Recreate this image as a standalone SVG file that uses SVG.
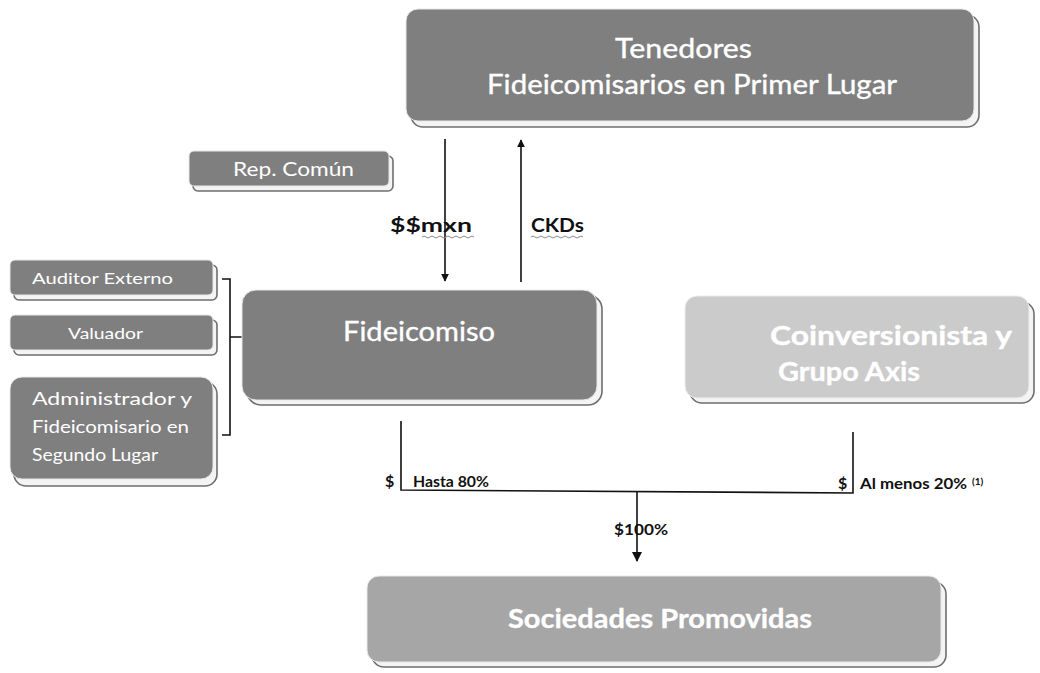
<svg xmlns="http://www.w3.org/2000/svg" width="1040" height="673" viewBox="0 0 1040 673">
<defs>
<style>
.sh{fill:#f4f4f4;stroke:#6e6e6e;stroke-width:1.6}
.dk{fill:#7f7f7f;stroke:#e8e8e8;stroke-width:1}
.md{fill:#a6a6a6;stroke:#e8e8e8;stroke-width:1}
.lt{fill:#cbcbcb;stroke:#ececec;stroke-width:1}
.wt{font-family:Lato,"Open Sans",sans-serif;fill:#ffffff;stroke:#ffffff;stroke-width:0.35}
.ws{font-family:Lato,"Open Sans",sans-serif;fill:#ffffff}
.lab{font-family:Lato,"Liberation Sans",sans-serif;fill:#111;font-weight:bold}
.ln{stroke:#111;stroke-width:1.6;fill:none}
.sq{stroke:#8a8a8a;stroke-width:1;fill:none}
</style>
<marker id="ah" viewBox="0 0 10 10" refX="9" refY="5" markerWidth="8" markerHeight="8" orient="auto" markerUnits="userSpaceOnUse">
<path d="M0,0 L10,5 L0,10 z" fill="#111"/>
</marker>
<marker id="ahb" viewBox="0 0 10 10" refX="9" refY="5" markerWidth="10" markerHeight="10" orient="auto" markerUnits="userSpaceOnUse">
<path d="M0,0 L10,5 L0,10 z" fill="#111"/>
</marker>
</defs>
<rect width="1040" height="673" fill="#ffffff"/>

<g id="connectors">
<line class="ln" x1="445" y1="139" x2="445" y2="281" marker-end="url(#ah)"/>
<line class="ln" x1="521" y1="282" x2="521" y2="140" marker-end="url(#ah)"/>
<path class="ln" d="M222,279 H230 V435 H222 M230,337 H242"/>
<path class="ln" d="M401,421 V490 L853,493 V432"/>
<line class="ln" x1="637" y1="491" x2="637" y2="561" marker-end="url(#ahb)"/>
<text class="lab" x="390" y="232" font-size="18" textLength="82" lengthAdjust="spacingAndGlyphs">$$mxn</text>
<path class="sq" d="M422,237 q2,-2 4,0 t4,0 t4,0 t4,0 t4,0 t4,0 t4,0 t4,0 t4,0 t4,0 t4,0 t4,0 t4,0"/>
<text class="lab" x="531" y="232" font-size="19" textLength="53" lengthAdjust="spacingAndGlyphs">CKDs</text>
<path class="sq" d="M531,237 q2,-2 4,0 t4,0 t4,0 t4,0 t4,0 t4,0 t4,0 t4,0 t4,0 t4,0 t4,0 t4,0 t4,0"/>
<text class="lab" x="385" y="487" font-size="16">$</text>
<text class="lab" x="413" y="487" font-size="15.5" textLength="76" lengthAdjust="spacingAndGlyphs">Hasta 80%</text>
<text class="lab" x="838" y="489" font-size="16">$</text>
<text class="lab" x="860" y="489" font-size="16" textLength="107" lengthAdjust="spacingAndGlyphs">Al menos 20%</text>
<text class="lab" x="972" y="485" font-size="10">(1)</text>
<text class="lab" x="614" y="535" font-size="16" textLength="54" lengthAdjust="spacingAndGlyphs">$100%</text>
</g>

<g id="tenedores">
<rect class="sh" x="411" y="15" width="568" height="112" rx="12"/>
<rect class="dk" x="406" y="9" width="568" height="112" rx="12"/>
<text class="wt" x="615" y="58" font-size="27" textLength="137" lengthAdjust="spacingAndGlyphs">Tenedores</text>
<text class="wt" x="487" y="94" font-size="27" textLength="410" lengthAdjust="spacingAndGlyphs">Fideicomisarios en Primer Lugar</text>
</g>

<g id="rep-comun">
<rect class="sh" x="193" y="156" width="200" height="35" rx="5"/>
<rect class="dk" x="189" y="151" width="200" height="35" rx="5"/>
<text class="ws" x="233" y="176" font-size="20" textLength="121" lengthAdjust="spacingAndGlyphs">Rep. Común</text>
</g>

<g id="auditor">
<rect class="sh" x="14" y="265" width="203" height="35" rx="5"/>
<rect class="dk" x="10" y="260" width="203" height="35" rx="5"/>
<text class="ws" x="32" y="284" font-size="16" textLength="141" lengthAdjust="spacingAndGlyphs">Auditor Externo</text>
</g>

<g id="valuador">
<rect class="sh" x="14" y="320" width="203" height="35" rx="5"/>
<rect class="dk" x="10" y="315" width="203" height="35" rx="5"/>
<text class="ws" x="68" y="339" font-size="16" textLength="75" lengthAdjust="spacingAndGlyphs">Valuador</text>
</g>

<g id="administrador">
<rect class="sh" x="14" y="382" width="203" height="104" rx="12"/>
<rect class="dk" x="10" y="377" width="203" height="102" rx="12"/>
<text class="ws" x="32" y="405" font-size="17" textLength="160" lengthAdjust="spacingAndGlyphs">Administrador y</text>
<text class="ws" x="32" y="433" font-size="17" textLength="157" lengthAdjust="spacingAndGlyphs">Fideicomisario en</text>
<text class="ws" x="32" y="461" font-size="17" textLength="126" lengthAdjust="spacingAndGlyphs">Segundo Lugar</text>
</g>

<g id="fideicomiso">
<rect class="sh" x="247" y="295" width="355" height="110" rx="14"/>
<rect class="dk" x="242" y="290" width="355" height="110" rx="14"/>
<text class="wt" x="343" y="341" font-size="27" textLength="152" lengthAdjust="spacingAndGlyphs">Fideicomiso</text>
</g>

<g id="coinversionista">
<rect class="sh" x="690" y="302" width="344" height="101" rx="12"/>
<rect class="lt" x="685" y="296" width="344" height="102" rx="12"/>
<text class="wt" x="770" y="345" font-size="26" font-weight="bold" textLength="242" lengthAdjust="spacingAndGlyphs">Coinversionista y</text>
<text class="wt" x="778" y="381" font-size="26" font-weight="bold" textLength="142" lengthAdjust="spacingAndGlyphs">Grupo Axis</text>
</g>

<g id="sociedades">
<rect class="sh" x="372" y="582" width="574" height="85" rx="12"/>
<rect class="md" x="367" y="576" width="574" height="86" rx="12"/>
<text class="wt" x="508" y="628" font-size="27" font-weight="bold" textLength="304" lengthAdjust="spacingAndGlyphs">Sociedades Promovidas</text>
</g>
</svg>
